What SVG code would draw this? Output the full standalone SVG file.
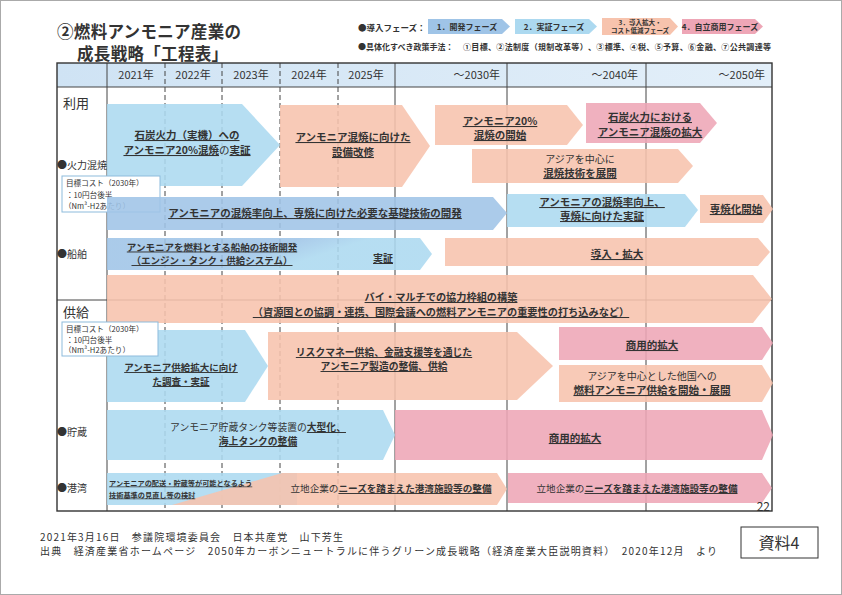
<svg xmlns="http://www.w3.org/2000/svg" width="842" height="595" viewBox="0 0 842 595">
<defs>
<style>
.t{font-family:"Noto Sans CJK JP","Noto Sans",sans-serif;fill:#333}
.b{font-weight:bold}
.u{text-decoration:underline}
.m{text-anchor:middle}
.ar{fill-opacity:0.88}
.dev{fill:#9fc4e7}
.dem{fill:#acd9f0}
.pch{fill:#f7c3ad}
.pnk{fill:#eea6b6}
.grid{stroke:#444;stroke-width:1}
.dash{stroke-dasharray:5 3}
.a{font-size:10.5px}
</style>
<linearGradient id="hdr" x1="0" y1="0" x2="1" y2="0">
<stop offset="0" stop-color="#cfe3f4"/><stop offset="1" stop-color="#e3eff9"/>
</linearGradient>
<linearGradient id="ship" x1="0" y1="0" x2="1" y2="0.3">
<stop offset="0.55" stop-color="#9fc4e7"/><stop offset="0.75" stop-color="#acd9f0"/>
</linearGradient>
</defs>
<rect x="0" y="0" width="842" height="595" fill="#fff"/>
<rect x="0.5" y="0.5" width="841" height="594" fill="none" stroke="#aaa"/>

<g id="title">
<text class="t b" x="57" y="38" font-size="16.5" textLength="184" fill="#222">②燃料アンモニア産業の</text>
<text class="t b" x="77" y="60" font-size="16.5" textLength="151">成長戦略「工程表」</text>
</g>

<g id="legend">
<text class="t b" x="358" y="31" font-size="8.5">●導入フェーズ：</text>
<polygon class="dev" points="428,19 502,19 510,26.5 502,34 428,34"/>
<text class="t b m" x="467" y="30" font-size="8">1．開発フェーズ</text>
<polygon class="dem" points="515,19 589,19 597,26.5 589,34 515,34"/>
<text class="t b m" x="554" y="30" font-size="8">2．実証フェーズ</text>
<polygon class="pch" points="602,18 670,18 678,26.5 670,35 602,35"/>
<text class="t b m" x="640" y="24.5" font-size="6.5">3．導入拡大・</text>
<text class="t b m" x="640" y="33" font-size="6.5">コスト低減フェーズ</text>
<polygon class="pnk" points="682,19 755,19 763,26.5 755,34 682,34"/>
<text class="t b m" x="720" y="30" font-size="8">4．自立商用フェーズ</text>
<text class="t b" x="358" y="50" font-size="8">●具体化すべき政策手法：</text>
<text class="t b" x="463" y="50" font-size="8" textLength="308">①目標、②法制度（規制改革等）、③標準、④税、⑤予算、⑥金融、⑦公共調達等</text>
</g>

<g id="table">
<rect x="57" y="63" width="715" height="24" fill="url(#hdr)"/>
<line class="grid" x1="57" y1="300" x2="772" y2="300"/>
<line class="grid" x1="107" y1="63" x2="107" y2="511"/>
<line class="grid dash" x1="165" y1="63" x2="165" y2="511"/>
<line class="grid dash" x1="222" y1="63" x2="222" y2="511"/>
<line class="grid dash" x1="280" y1="63" x2="280" y2="511"/>
<line class="grid dash" x1="338" y1="63" x2="338" y2="511"/>
<line class="grid" x1="395" y1="63" x2="395" y2="511"/>
<line class="grid" x1="507" y1="63" x2="507" y2="511"/>
<line class="grid" x1="646" y1="63" x2="646" y2="511"/>
<line class="grid" x1="57" y1="87" x2="772" y2="87"/>
<rect x="57" y="63" width="715" height="448" fill="none" stroke="#333" stroke-width="1.4"/>
<g class="t" font-size="11">
<text class="m" x="136" y="79">2021年</text>
<text class="m" x="193" y="79">2022年</text>
<text class="m" x="251" y="79">2023年</text>
<text class="m" x="309" y="79">2024年</text>
<text class="m" x="366" y="79">2025年</text>
<text x="500" y="79" text-anchor="end">～2030年</text>
<text x="638" y="79" text-anchor="end">～2040年</text>
<text x="765" y="79" text-anchor="end">～2050年</text>
</g>
<text class="t" x="63" y="108" font-size="13">利用</text>
<text class="t" x="63" y="317" font-size="13">供給</text>
<text class="t" x="57" y="169" font-size="10">●火力混焼</text>
<text class="t" x="57" y="258" font-size="10">●船舶</text>
<text class="t" x="57" y="436" font-size="10">●貯蔵</text>
<text class="t" x="57" y="492" font-size="10">●港湾</text>
</g>

<g id="coal-demo">
<polygon class="dem ar" points="107,104 242,104 280,145 242,186 107,186"/>
<text class="t b m a" x="187" y="139"><tspan class="u">石炭火力（実機）への</tspan></text>
<text class="t b m a" x="187" y="154"><tspan class="u">アンモニア20%混焼</tspan><tspan font-weight="normal">の</tspan><tspan class="u">実証</tspan></text>
</g>
<g id="coal-retrofit">
<polygon class="pch ar" points="280,105 402,105 430,146 402,187 280,187"/>
<text class="t b m a u" x="353" y="141">アンモニア混焼に向けた</text>
<text class="t b m a u" x="353" y="156">設備改修</text>
</g>
<g id="coal-start">
<polygon class="pch ar" points="435,105 567,105 583,125 567,145 435,145"/>
<text class="t b m a u" x="500" y="125">アンモニア20%</text>
<text class="t b m a u" x="500" y="139">混焼の開始</text>
</g>
<g id="coal-expand">
<polygon class="pnk ar" points="586,103 700,103 717,123 700,143 586,143"/>
<text class="t b m a u" x="650" y="121">石炭火力における</text>
<text class="t b m a u" x="650" y="136">アンモニア混焼の拡大</text>
</g>
<g id="coal-asia">
<polygon class="pch ar" points="472,149 678,149 693,166 678,183 472,183"/>
<text class="t m" x="580" y="163" font-size="10">アジアを中心に</text>
<text class="t b m a u" x="580" y="177">混焼技術を展開</text>
</g>
<g id="cost-box-1">
<rect x="62" y="176" width="98" height="36" fill="#fff" stroke="#8dbbdc"/>
<text class="t" x="66" y="186" font-size="7.6">目標コスト（2030年）</text>
<text class="t" x="66" y="197.5" font-size="7.6">：10円台後半</text>
<text class="t" x="64" y="209" font-size="7.6">（Nm³-H2あたり）</text>
</g>
<g id="basic-dev">
<polygon class="dev ar" points="107,197 493,197 507,213 493,230 107,230"/>
<text class="t b m a u" x="315" y="217">アンモニアの混焼率向上、専焼に向けた必要な基礎技術の開発</text>
</g>
<g id="mono-demo">
<polygon class="dem ar" points="507,194 685,194 698,210 685,227 507,227"/>
<text class="t b m a u" x="602" y="206">アンモニアの混焼率向上、</text>
<text class="t b m a u" x="602" y="220">専焼に向けた実証</text>
</g>
<g id="mono-start">
<polygon class="pch ar" points="700,195 763,195 773,209 763,223 700,223"/>
<text class="t b m a u" x="736" y="213">専焼化開始</text>
</g>
<g id="ship-dev">
<polygon fill="url(#ship)" fill-opacity="0.88" points="107,238 420,238 432,254 420,270 107,270"/>
<text class="t b m u" x="212" y="250.5" font-size="9.5">アンモニアを燃料とする船舶の技術開発</text>
<text class="t b m u" x="212" y="264" font-size="9.5">（エンジン・タンク・供給システム）</text>
<text class="t b m u" x="383" y="262" font-size="10">実証</text>
</g>
<g id="ship-intro">
<polygon class="pch ar" points="445,238 758,238 770,252 758,266 445,266"/>
<text class="t b m a u" x="617" y="258">導入・拡大</text>
</g>
<g id="bi-multi">
<polygon class="pch ar" points="107,275 753,275 772,299 753,323 107,323"/>
<text class="t b m u" x="441" y="301" font-size="10.2">バイ・マルチでの協力枠組の構築</text>
<text class="t b m u" x="441" y="316" font-size="10.2">（資源国との協調・連携、国際会議への燃料アンモニアの重要性の打ち込みなど）</text>
</g>
<g id="supply-demo">
<polygon class="dem ar" points="107,330 245,330 268,366 245,402 107,402"/>
<text class="t b m u" x="181" y="371" font-size="9.5">アンモニア供給拡大に向け</text>
<text class="t b m u" x="181" y="385" font-size="9.5">た調査・実証</text>
</g>
<g id="cost-box-2">
<rect x="62" y="322" width="96" height="34" fill="#fff" stroke="#8dbbdc"/>
<text class="t" x="66" y="331.5" font-size="7.6">目標コスト（2030年）</text>
<text class="t" x="66" y="342.5" font-size="7.6">：10円台後半</text>
<text class="t" x="64" y="353" font-size="7.6">（Nm³-H2あたり）</text>
</g>
<g id="supply-finance">
<polygon class="pch ar" points="268,332 517,332 553,366 517,400 268,400"/>
<text class="t b m u" x="384" y="356" font-size="9.8">リスクマネー供給、金融支援等を通じた</text>
<text class="t b m u" x="384" y="370" font-size="9.8">アンモニア製造の整備、供給</text>
</g>
<g id="supply-commercial">
<polygon class="pnk ar" points="559,327 762,327 773,343 762,360 559,360"/>
<text class="t b m a u" x="652" y="349">商用的拡大</text>
</g>
<g id="supply-asia">
<polygon class="pch ar" points="559,365 762,365 773,383 762,402 559,402"/>
<text class="t m" x="652" y="380" font-size="10">アジアを中心とした他国への</text>
<text class="t b m a u" x="652" y="394">燃料アンモニア供給を開始・展開</text>
</g>
<g id="storage-dev">
<polygon class="dem ar" points="107,410 383,410 395,435 383,460 107,460"/>
<text class="t m" x="258" y="431" font-size="9.8">アンモニア貯蔵タンク等装置の<tspan class="b u">大型化、</tspan></text>
<text class="t b m u" x="258" y="445" font-size="9.8">海上タンクの整備</text>
</g>
<g id="storage-commercial">
<polygon class="pnk ar" points="395,410 762,410 773,435 762,460 395,460"/>
<text class="t b m a u" x="575" y="442">商用的拡大</text>
</g>
<g id="port-review">
<rect class="dem ar" x="107" y="473" width="190" height="32"/>
<polygon class="pch ar" points="172,505 282,473 497,473 507,489 497,505"/>
<text class="t b u" x="109" y="485.5" font-size="7.2">アンモニアの配送・貯蔵等が可能となるよう</text>
<text class="t b u" x="109" y="497.5" font-size="7.2">技術基準の見直し等の検討</text>
<text class="t m" x="391" y="492" font-size="9.6">立地企業の<tspan class="b u">ニーズを踏まえた港湾施設等の整備</tspan></text>
</g>
<g id="port-commercial">
<polygon class="pnk ar" points="508,473 762,473 772,488 762,503 508,503"/>
<text class="t m" x="637" y="492" font-size="9.6">立地企業の<tspan class="b u">ニーズを踏まえた港湾施設等の整備</tspan></text>
</g>
<text class="t" x="770" y="511" font-size="12" text-anchor="end" fill="#555">22</text>

<g id="footer">
<text class="t" x="40" y="541" font-size="10" textLength="303" fill="#222">2021年3月16日　参議院環境委員会　日本共産党　山下芳生</text>
<text class="t" x="40" y="555" font-size="10" textLength="677" fill="#222">出典　経済産業省ホームページ　2050年カーボンニュートラルに伴うグリーン成長戦略（経済産業大臣説明資料）　2020年12月　より</text>
<rect x="741" y="527" width="77" height="31" fill="#fff" stroke="#333"/>
<text class="t m" x="779" y="549" font-size="16" fill="#222">資料4</text>
</g>
</svg>
